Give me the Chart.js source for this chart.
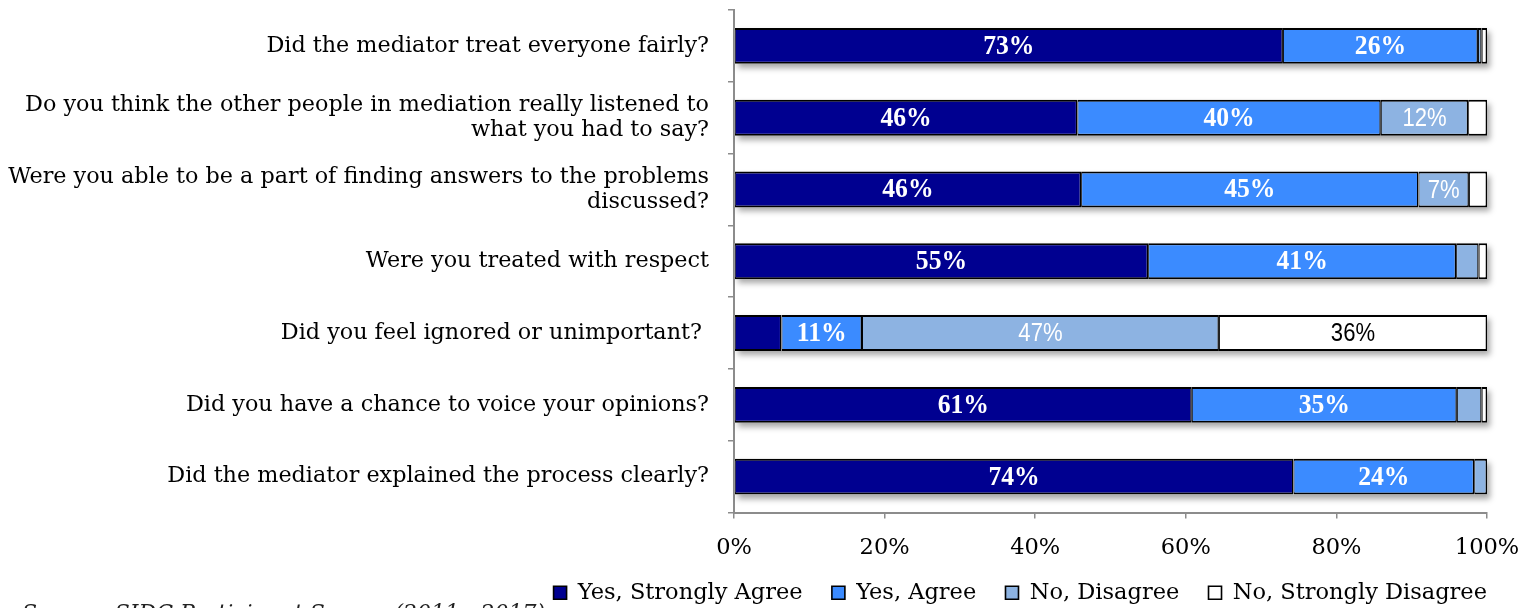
<!DOCTYPE html>
<html>
<head>
<meta charset="utf-8">
<script src="https://cdn.jsdelivr.net/npm/chart.js@4.4.0/dist/chart.umd.min.js"></script>
<style>
    html, body { margin: 0; padding: 0; background: #fff; overflow: hidden; }
    #wrap { position: relative; width: 1537px; height: 608px; }
    #source {
        position: absolute; left: 22px; top: 600px;
        font: italic 22px "DejaVu Serif", serif; color: #222; white-space: nowrap;
    }
</style>
</head>
<body>
<div id="wrap">
    <canvas id="surveyChart" width="1537" height="608"></canvas>
    <div id="source">Source: SIDC Participant Survey (2011 - 2017)</div>
</div>
<script>
// Survey questions (y axis)
const categories = [
    'Did the mediator treat everyone fairly?',
    ['Do you think the other people in mediation really listened to', 'what you had to say?'],
    ['Were you able to be a part of finding answers to the problems', 'discussed?'],
    'Were you treated with respect',
    'Did you feel ignored or unimportant? ',
    'Did you have a chance to voice your opinions?',
    'Did the mediator explained the process clearly?'
];

const seriesNames = ['Yes, Strongly Agree', 'Yes, Agree', 'No, Disagree', 'No, Strongly Disagree'];

// Shares in percent
const strongAgree    = [72.9, 45.6, 46.1, 55.0,  6.3, 60.8, 74.3];
const agree          = [25.9, 40.3, 44.8, 40.9, 10.7, 35.2, 24.0];
const disagree       = [ 0.5, 11.6,  6.7,  3.0, 47.4,  3.3,  1.7];
const strongDisagree = [ 0.7,  2.5,  2.4,  1.1, 35.6,  0.7,  0.0];

const xTicks = [0, 20, 40, 60, 80, 100];

const serifFont = '"DejaVu Serif", serif';
const labelMin = 6.5;
const legendPad = 18;

// Soft shadow under every row of bars
const rowShadow = {
    id: 'rowShadow',
    beforeDatasetsDraw(chart) {
        const ctx = chart.ctx;
        const first = chart.getDatasetMeta(0).data;
        const last = chart.getDatasetMeta(chart.data.datasets.length - 1).data;
        ctx.save();
        ctx.shadowColor = 'rgba(0,0,0,0.35)';
        ctx.shadowBlur = 6;
        ctx.shadowOffsetX = 3;
        ctx.shadowOffsetY = 4;
        ctx.fillStyle = '#fff';
        first.forEach((bar, i) => {
            const left = bar.base;
            const right = Math.max(last[i].x, last[i].base);
            ctx.fillRect(left, bar.y - bar.height / 2, right - left, bar.height);
        });
        ctx.restore();
    }
};

// Percent labels centred in segments
const segmentLabels = {
    id: 'segmentLabels',
    afterDatasetsDraw(chart) {
        const ctx = chart.ctx;
        chart.data.datasets.forEach((ds, di) => {
            const meta = chart.getDatasetMeta(di);
            meta.data.forEach((bar, i) => {
                const v = ds.data[i];
                if (v < labelMin) return;
                ctx.save();
                ctx.translate((bar.x + bar.base) / 2, bar.y + 1);
                ctx.scale(ds.labelScale, 1);
                ctx.textAlign = 'center';
                ctx.textBaseline = 'middle';
                ctx.font = ds.labelFont;
                ctx.fillStyle = ds.labelColor;
                ctx.fillText(Math.round(v) + '%', 0, 0);
                ctx.restore();
            });
        });
    }
};

const boldSerif = 'bold 27px "Liberation Serif", serif';
const narrowSans = '26px "Liberation Sans", sans-serif';

const border = { top: 2, bottom: 2, left: 1, right: 1.5 };

const ctx = document.getElementById('surveyChart').getContext('2d');
const surveyChart = new Chart(ctx, {
    type: 'bar',
    data: {
        labels: categories,
        datasets: [
            { label: seriesNames[0], data: strongAgree, backgroundColor: '#000090', labelFont: boldSerif, labelScale: 0.95, labelColor: '#fff' },
            { label: seriesNames[1], data: agree, backgroundColor: '#3b8bff', labelFont: boldSerif, labelScale: 0.95, labelColor: '#fff' },
            { label: seriesNames[2], data: disagree, backgroundColor: '#8db3e2', labelFont: narrowSans, labelScale: 0.85, labelColor: '#fff' },
            { label: seriesNames[3], data: strongDisagree, backgroundColor: '#ffffff', labelFont: narrowSans, labelScale: 0.85, labelColor: '#000' }
        ].map(ds => Object.assign(ds, {
            borderColor: '#000',
            borderWidth: border,
            borderSkipped: false,
            categoryPercentage: 1,
            barPercentage: 0.5
        }))
    },
    options: {
        indexAxis: 'y',
        responsive: false,
        animation: false,
        events: [],
        layout: { padding: { left: 0, right: 32, top: 10, bottom: -6 } },
        plugins: {
            legend: {
                position: 'bottom',
                align: 'end',
                labels: {
                    boxWidth: 13,
                    boxHeight: 13,
                    padding: legendPad,
                    color: '#000',
                    font: { family: serifFont, size: 22.5 },
                    generateLabels(chart) {
                        const items = Chart.defaults.plugins.legend.labels.generateLabels(chart);
                        // widen the gaps between entries (not after the last one)
                        items.forEach((item, i) => {
                            if (i < items.length - 1) item.text += '\u2002';
                        });
                        return items;
                    }
                }
            },
            tooltip: { enabled: false }
        },
        scales: {
            x: {
                stacked: true,
                min: 0,
                max: 100,
                afterBuildTicks(scale) {
                    scale.ticks = xTicks.map(v => ({ value: v }));
                },
                afterFit(scale) {
                    scale.height = 51;
                    scale.paddingRight = 50;
                },
                ticks: {
                    padding: 16,
                    color: '#000',
                    font: { family: serifFont, size: 22.5 },
                    callback: v => v + '%'
                },
                grid: { drawOnChartArea: false, tickLength: 6, color: '#8c8c8c', lineWidth: 1.5 },
                border: { display: true, color: '#8c8c8c', width: 2 }
            },
            y: {
                stacked: true,
                afterFit(scale) {
                    scale.width = 734;
                    scale.paddingTop = 0;
                    scale.paddingBottom = 0;
                },
                ticks: {
                    padding: 19,
                    color: '#000',
                    font: { family: serifFont, size: 22.3, lineHeight: 1.12 }
                },
                grid: { offset: true, drawOnChartArea: false, tickLength: 6, color: '#8c8c8c', lineWidth: 1.5 },
                border: { display: true, color: '#8c8c8c', width: 2 }
            }
        }
    },
    plugins: [rowShadow, segmentLabels]
});
</script>
</body>
</html>
